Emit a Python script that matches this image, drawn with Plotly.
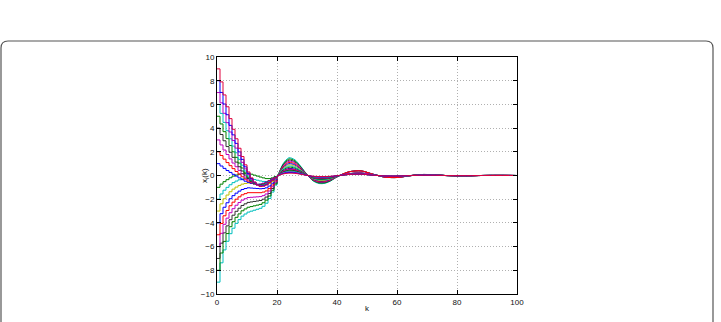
import plotly.graph_objects as go

# sample instants
k_main = list(range(0, 21)) + list(range(22, 41, 2))   # 0..20 (stairs) then 22..40
k_late = list(range(44, 101, 4))                          # 44..100

# trajectories x_i(k) for k in k_main (positive initial states)
x_p9 = [9, 7.9, 6.8, 5.8, 4.8, 3.9, 3.1, 2.3, 1.6, 0.9, 0.3, -0.2, -0.55, -0.8, -0.92, -0.9, -0.8, -0.6, -0.4, -0.2, -0.05,
        0.13, 0.2, 0.18, 0.1, 0.01, -0.06, -0.09, -0.09, -0.06, -0.02]
x_p8 = [8, 7.01, 6.03, 5.13, 4.23, 3.43, 2.71, 1.99, 1.36, 0.73, 0.19, -0.26, -0.57, -0.79, -0.9, -0.87, -0.77, -0.58, -0.39, -0.2, -0.05,
        0.16, 0.25, 0.22, 0.13, 0.01, -0.08, -0.11, -0.11, -0.08, -0.02]
x_p7 = [7, 6.13, 5.25, 4.46, 3.67, 2.95, 2.31, 1.68, 1.11, 0.56, 0.08, -0.31, -0.59, -0.79, -0.87, -0.84, -0.74, -0.56, -0.37, -0.19, -0.05,
        0.2, 0.3, 0.26, 0.15, 0.02, -0.09, -0.14, -0.13, -0.09, -0.02]
x_p6 = [6, 5.24, 4.48, 3.78, 3.1, 2.48, 1.92, 1.36, 0.87, 0.38, -0.03, -0.37, -0.61, -0.78, -0.85, -0.81, -0.71, -0.53, -0.36, -0.19, -0.06,
        0.23, 0.35, 0.31, 0.18, 0.02, -0.11, -0.16, -0.15, -0.11, -0.03]
x_p5 = [5, 4.35, 3.7, 3.11, 2.53, 2.0, 1.53, 1.05, 0.63, 0.21, -0.14, -0.43, -0.63, -0.77, -0.82, -0.78, -0.68, -0.51, -0.34, -0.18, -0.06,
        0.26, 0.4, 0.35, 0.2, 0.02, -0.12, -0.18, -0.18, -0.12, -0.03]
x_p4 = [4, 3.46, 2.93, 2.44, 1.96, 1.53, 1.13, 0.74, 0.38, 0.04, -0.25, -0.49, -0.66, -0.76, -0.8, -0.74, -0.64, -0.49, -0.33, -0.18, -0.06,
        0.29, 0.45, 0.4, 0.23, 0.02, -0.14, -0.2, -0.2, -0.14, -0.04]
x_p3 = [3, 2.58, 2.15, 1.77, 1.4, 1.05, 0.74, 0.43, 0.14, -0.13, -0.36, -0.54, -0.68, -0.76, -0.77, -0.71, -0.61, -0.47, -0.31, -0.17, -0.06,
        0.33, 0.5, 0.44, 0.25, 0.03, -0.15, -0.23, -0.22, -0.15, -0.04]
x_p2 = [2, 1.69, 1.38, 1.09, 0.83, 0.58, 0.34, 0.11, -0.11, -0.31, -0.47, -0.6, -0.7, -0.75, -0.75, -0.68, -0.58, -0.44, -0.3, -0.17, -0.07,
        0.36, 0.55, 0.48, 0.28, 0.03, -0.17, -0.25, -0.24, -0.17, -0.04]
x_p1 = [1, 0.8, 0.6, 0.42, 0.26, 0.1, -0.05, -0.2, -0.35, -0.48, -0.58, -0.66, -0.72, -0.74, -0.72, -0.65, -0.55, -0.42, -0.28, -0.16, -0.07,
        0.39, 0.6, 0.53, 0.3, 0.03, -0.18, -0.27, -0.26, -0.18, -0.05]

# trajectories (negative initial states)
x_n1 = [-1, -0.73, -0.52, -0.35, -0.19, -0.05, 0.04, 0.12, 0.17, 0.19, 0.19, 0.11, 0.03, -0.05, -0.13, -0.2, -0.26, -0.26, -0.2, -0.09, -0.03,
        0.46, 0.7, 0.62, 0.35, 0.04, -0.21, -0.32, -0.31, -0.21, -0.06]
x_n2 = [-2, -1.56, -1.24, -1.0, -0.78, -0.6, -0.47, -0.36, -0.28, -0.24, -0.22, -0.28, -0.34, -0.4, -0.46, -0.5, -0.52, -0.47, -0.35, -0.18, -0.06,
        0.52, 0.8, 0.7, 0.4, 0.04, -0.24, -0.36, -0.35, -0.24, -0.06]
x_n3 = [-3, -2.39, -1.96, -1.65, -1.37, -1.15, -0.98, -0.84, -0.73, -0.67, -0.63, -0.67, -0.71, -0.75, -0.79, -0.8, -0.78, -0.68, -0.5, -0.27, -0.09,
        0.59, 0.9, 0.79, 0.45, 0.05, -0.27, -0.41, -0.4, -0.27, -0.07]
x_n4 = [-4, -3.22, -2.68, -2.3, -1.96, -1.7, -1.49, -1.32, -1.18, -1.1, -1.04, -1.06, -1.08, -1.1, -1.12, -1.1, -1.04, -0.89, -0.65, -0.36, -0.12,
        0.65, 1.0, 0.88, 0.5, 0.05, -0.3, -0.45, -0.44, -0.3, -0.08]
x_n5 = [-5, -4.05, -3.4, -2.95, -2.55, -2.25, -2.0, -1.8, -1.63, -1.53, -1.45, -1.45, -1.45, -1.45, -1.45, -1.4, -1.3, -1.1, -0.8, -0.45, -0.15,
        0.72, 1.1, 0.97, 0.55, 0.06, -0.33, -0.5, -0.48, -0.33, -0.09]
x_n6 = [-6, -4.88, -4.12, -3.6, -3.14, -2.8, -2.51, -2.28, -2.08, -1.96, -1.86, -1.84, -1.82, -1.8, -1.78, -1.7, -1.56, -1.31, -0.95, -0.54, -0.18,
        0.78, 1.2, 1.06, 0.6, 0.06, -0.36, -0.54, -0.53, -0.36, -0.1]
x_n7 = [-7, -5.71, -4.84, -4.25, -3.73, -3.35, -3.02, -2.76, -2.53, -2.39, -2.27, -2.23, -2.19, -2.15, -2.11, -2.0, -1.82, -1.52, -1.1, -0.63, -0.21,
        0.85, 1.3, 1.14, 0.65, 0.07, -0.39, -0.59, -0.57, -0.39, -0.1]
x_n8 = [-8, -6.54, -5.56, -4.9, -4.32, -3.9, -3.53, -3.24, -2.98, -2.82, -2.68, -2.62, -2.56, -2.5, -2.44, -2.3, -2.08, -1.73, -1.25, -0.72, -0.24,
        0.91, 1.4, 1.23, 0.7, 0.07, -0.42, -0.63, -0.62, -0.42, -0.11]
x_n9 = [-9, -7.37, -6.28, -5.55, -4.91, -4.45, -4.04, -3.72, -3.43, -3.25, -3.09, -3.01, -2.93, -2.85, -2.77, -2.6, -2.34, -1.94, -1.4, -0.81, -0.27,
        0.98, 1.5, 1.32, 0.75, 0.08, -0.45, -0.68, -0.66, -0.45, -0.12]

# late parts (k = 44..100)
late_small = [0.09, 0.11, 0.03, -0.04, -0.05, -0.01, 0.02, 0.02, 0.0, -0.01, -0.01, 0.0, 0.0, 0.0, 0.0]
late_mid = [0.15, 0.2, 0.06, -0.07, -0.08, -0.01, 0.04, 0.04, 0.0, -0.01, -0.01, 0.0, 0.01, 0.01, 0.0]
late_big = [0.31, 0.39, 0.11, -0.14, -0.17, -0.03, 0.08, 0.07, 0.0, -0.03, -0.03, 0.0, 0.01, 0.01, 0.0]

B, G, R, C, M, Y, K = '#0000ff', '#008000', '#ff0000', '#00bfbf', '#bf00bf', '#bfbf00', '#303030'

series = [
    (x_n9, late_big, C), (x_n8, late_big, G), (x_n7, late_big, K), (x_n6, late_big, M),
    (x_n5, late_big, R), (x_n4, late_mid, B), (x_n3, late_mid, Y), (x_n2, late_mid, C),
    (x_n1, late_mid, G),
    (x_p1, late_mid, B), (x_p2, late_mid, R), (x_p3, late_mid, M), (x_p4, late_small, K),
    (x_p5, late_small, G), (x_p6, late_small, C), (x_p7, late_small, M), (x_p8, late_small, B),
    (x_p9, late_small, '#e0003c'),
]

fig = go.Figure()
for vals, late, color in series:
    fig.add_trace(go.Scatter(x=k_main[:21], y=vals[:21], mode='lines',
                             line=dict(color=color, width=1, shape='hv'),
                             showlegend=False, hoverinfo='skip'))
    fig.add_trace(go.Scatter(x=k_main[20:] + k_late, y=vals[20:] + late, mode='lines',
                             line=dict(color=color, width=1, shape='spline', smoothing=0.8),
                             showlegend=False, hoverinfo='skip'))

# plot area pixel geometry
L, Rr, T, Bt = 217, 517, 57, 294
W, H = Rr - L, Bt - T
def xp(px): return (px - L) / W
def yp(py): return (Bt - py) / H

FONT = dict(family='Liberation Sans, Arial', size=8, color='#111')
axis_common = dict(showline=True, mirror='ticks', linecolor='black', linewidth=1,
                   ticks='inside', ticklen=4, tickcolor='black',
                   showgrid=True, gridcolor='#b0b0b0', griddash='1px,2px', gridwidth=1,
                   zeroline=False, tickfont=FONT)

fig.update_layout(
    width=721, height=322,
    margin=dict(l=L, r=721 - Rr, t=T, b=322 - Bt),
    paper_bgcolor='white', plot_bgcolor='white',
    xaxis=dict(range=[0, 100], tickvals=[0, 20, 40, 60, 80, 100], **axis_common),
    yaxis=dict(range=[-10, 10], tickvals=list(range(-10, 11, 2)), **axis_common),
    annotations=[
        dict(text='k', x=0.5, y=yp(315), xref='paper', yref='paper', showarrow=False, font=FONT),
        dict(text='x<sub>i</sub>(k)', x=xp(198), y=yp(176), xref='paper', yref='paper',
             showarrow=False, textangle=-90, font=FONT),
    ],
)

# rounded frame around the figure
r = 7
path = (f"M {xp(1)},{yp(360)} L {xp(1)},{yp(41 + r)} Q {xp(1)},{yp(41)} {xp(1 + r)},{yp(41)} "
        f"L {xp(713 - r)},{yp(41)} Q {xp(713)},{yp(41)} {xp(713)},{yp(41 + r)} L {xp(713)},{yp(360)}")
fig.add_shape(type='path', path=path, xref='paper', yref='paper',
              line=dict(color='#555555', width=1.2), layer='above')

fig.write_html("out.html")
